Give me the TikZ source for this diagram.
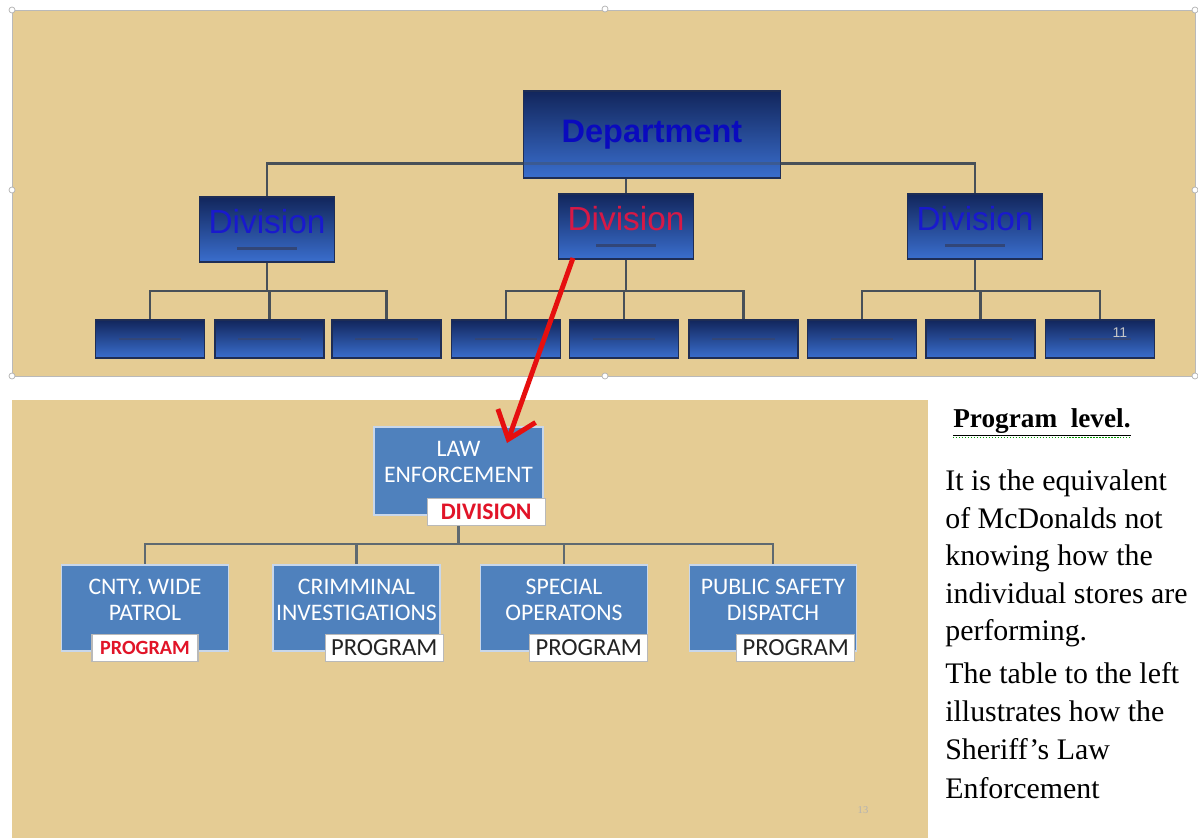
\documentclass[tikz,border=0pt]{standalone}
\usepackage{fontspec}
\setmainfont{Liberation Serif}
\newfontfamily\arialfont{Liberation Sans}
\newfontfamily\carlitofont{Carlito}
\usetikzlibrary{arrows.meta, positioning, calc}

\definecolor{papyrus}{RGB}{229,204,148}
\definecolor{navytop}{RGB}{18,38,92}
\definecolor{navybot}{RGB}{58,110,205}
\definecolor{navyedge}{RGB}{30,45,85}
\definecolor{deptblue}{RGB}{10,10,190}
\definecolor{divblue}{RGB}{25,25,205}
\definecolor{divred}{RGB}{215,25,70}
\definecolor{phcol}{RGB}{50,70,120}
\definecolor{linkgray}{RGB}{72,80,88}
\definecolor{steel}{RGB}{79,129,189}
\definecolor{steeledge}{RGB}{200,215,235}
\definecolor{orggray}{RGB}{95,105,112}
\definecolor{arrowred}{RGB}{230,15,15}
\definecolor{tagred}{RGB}{225,20,40}
\definecolor{tagblack}{RGB}{35,35,35}

\begin{document}
\begin{tikzpicture}[
  x=0.02cm, y=-0.02cm,
  paper/.style   = {fill=papyrus, draw=gray!55, line width=0.5pt},
  handle/.style  = {draw=gray!60, fill=white, line width=0.4pt},
  topbox/.style  = {draw=navyedge, line width=0.8pt, top color=navytop, bottom color=navybot, inner sep=0pt, align=center},
  deptbox/.style = {topbox, minimum width=5.14cm, minimum height=1.74cm, text=deptblue, font=\arialfont\bfseries\fontsize{18.5}{20}\selectfont},
  divbox/.style  = {topbox, minimum width=2.7cm, minimum height=1.3cm, font=\arialfont\fontsize{19}{20}\selectfont},
  leafbox/.style = {topbox, minimum width=2.18cm, minimum height=0.76cm},
  link/.style    = {draw=linkgray, line width=1.6pt},
  stbox/.style   = {fill=steel, draw=steeledge, line width=0.8pt, minimum width=3.34cm, minimum height=1.72cm},
  sttext/.style  = {text=white, align=center, inner sep=0pt, font=\carlitofont\fontsize{13.5}{14.5}\selectfont},
  tag/.style     = {fill=white, draw=gray!55, line width=0.6pt, inner sep=0pt, minimum width=2.36cm, minimum height=0.54cm, font=\carlitofont\fontsize{14}{15}\selectfont, text=tagblack},
  orgline/.style = {draw=orggray, line width=1.3pt},
  pointer/.style = {draw=arrowred, line width=2.8pt, -{Straight Barb[length=0.5cm, width=0.8cm]}},
  note/.style    = {anchor=base west, inner sep=0pt, font=\fontsize{17}{21}\selectfont},
]
  \useasboundingbox (0,0) rectangle (1198,838);
  \fill[white] (0,0) rectangle (1198,838);

  % Papyrus panels
  \draw[paper] (12,10) rectangle (1195,376);
  \fill[papyrus] (12,400) rectangle (928,838);
  \foreach \hx/\hy in {12/10, 605/9, 1195/10, 12/190, 1195/190, 12/376, 605/376, 1195/376}
    \draw[handle] (\hx,\hy) circle[radius=0.06cm];

  % Top chart
  \node[deptbox] (dept) at (652,134.5) {\raisebox{-3pt}{Department}};
  \node[divbox]  (divL) at (267,229.5) {\textcolor{divblue}{Division}\\[-11pt]\textcolor{phcol}{\rule{1.2cm}{1.5pt}}};
  \node[divbox]  (divM) at (626,226.5) {\textcolor{divred}{Division}\\[-11pt]\textcolor{phcol}{\rule{1.2cm}{1.5pt}}};
  \node[divbox]  (divR) at (975,226.5) {\textcolor{divblue}{Division}\\[-11pt]\textcolor{phcol}{\rule{1.2cm}{1.5pt}}};
  \foreach \i/\x in {1/150, 2/269.5, 3/386.5, 4/506, 5/624, 6/743.5, 7/862, 8/980.5, 9/1100}
    \node[leafbox] (b\i) at (\x,339) {\textcolor{phcol}{\rule{1.25cm}{1.5pt}}};
  \node[text=gray!45, font=\arialfont\fontsize{8}{9}\selectfont] (pg11) at (1120,333) {11};

  \draw[link] ([yshift=0.3cm]dept.south west) -| (divL.north);
  \draw[link] ([yshift=0.3cm]dept.south east) -| (divR.north);
  \draw[link, opacity=0.4] ([yshift=0.3cm]dept.south west) -- ([yshift=0.3cm]dept.south east);
  \draw[link] (divM.north |- dept.south) -- (divM.north);

  \coordinate (bar) at (0,291);
  \foreach \p/\c in {divL/b1, divL/b2, divL/b3, divM/b4, divM/b5, divM/b6, divR/b7, divR/b8, divR/b9}
    \draw[link] (\p.south) -- (\p.south |- bar) -| (\c.north);

  % Bottom chart
  \node[stbox, minimum width=3.38cm, minimum height=1.76cm] (le) at (458.5,471) {};
  \node[sttext] (letxt) at (458.5,462) {LAW\\ENFORCEMENT};

  \foreach \i/\x/\txt in {1/145/{CNTY. WIDE\\PATROL}, 2/356.5/{CRIMMINAL\\INVESTIGATIONS}, 3/564/{SPECIAL\\OPERATONS}, 4/773/{PUBLIC SAFETY\\DISPATCH}}
  {
    \node[stbox] (p\i) at (\x,608) {};
    \node[sttext] (p\i txt) at (\x,600) {\txt};
  }

  \coordinate (pbar) at (0,544);
  \foreach \c in {p1, p2, p3, p4}
    \draw[orgline] (le.south) -- (le.south |- pbar) -| (\c.north);

  \node[tag, anchor=south east, text=tagred, font=\carlitofont\bfseries\fontsize{13.5}{14.5}\selectfont]
    (dtag) at ([xshift=0.04cm, yshift=-0.2cm]le.south east) {DIVISION};
  \node[tag, anchor=south, minimum width=2.12cm, text=tagred, font=\carlitofont\bfseries\fontsize{11.5}{13}\selectfont]
    (t1) at ([yshift=-0.2cm]p1.south) {PROGRAM};
  \node[tag, anchor=south east] (t2) at ([xshift=0.06cm, yshift=-0.2cm]p2.south east) {PROGRAM};
  \node[tag, anchor=south east] (t3) at ([yshift=-0.2cm]p3.south east) {PROGRAM};
  \node[tag, anchor=south east] (t4) at ([xshift=-0.04cm, yshift=-0.2cm]p4.south east) {PROGRAM};

  \node[text=gray!60, font=\fontsize{6}{7}\selectfont] (pg13) at (863,810) {13};

  % Pointer from the division to the program chart
  \coordinate (tail) at (573,258);
  \coordinate (tip)  at (507,443);
  \draw[pointer] (tail) -- (tip);

  % Side note
  \node[note, font=\bfseries\fontsize{15.5}{18}\selectfont] (title) at (953,427) {\underline{Program\ \ level.}};
  \draw[green!60!black, densely dotted, line width=0.7pt] ([yshift=-0.5pt]title.south west) -- ([yshift=-0.5pt]title.south east);
  \foreach \y/\txt [count=\k] in {490/It is the equivalent, 528/of McDonalds not, 565/knowing how the, 603/individual stores are, 640/performing., 683/The table to the left, 721/illustrates how the, 759/Sheriff’s Law, 798/Enforcement}
    \node[note] (line\k) at (945,\y) {\txt};
\end{tikzpicture}
\end{document}
